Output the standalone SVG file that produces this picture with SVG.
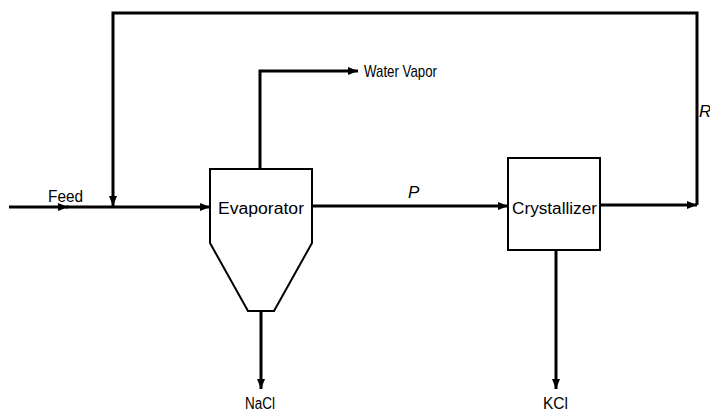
<svg xmlns="http://www.w3.org/2000/svg" width="710" height="414" viewBox="0 0 710 414">
<style>
.flow{fill:none;stroke:#000;stroke-width:3;stroke-linejoin:miter}
.unit{fill:#fff;stroke:#000;stroke-width:2}
.lbl{font-family:"Liberation Sans",Arial,sans-serif;font-size:17px;fill:#000}
.box{font-size:16px}
.it{font-style:italic;font-size:17px}
.small{font-size:16px}
</style>
<defs>
<marker id="ah" markerUnits="userSpaceOnUse" markerWidth="10" markerHeight="8" viewBox="0 0 10 8" refX="10" refY="4" orient="auto">
<path d="M0,0 L10,4 L0,8 Z" fill="#000"/>
</marker>
</defs>
<rect width="710" height="414" fill="#fff"/>
<g id="connectors">
<line class="flow" x1="9" y1="207" x2="68" y2="207" marker-end="url(#ah)"/>
<line class="flow" x1="66" y1="207" x2="210" y2="207" marker-end="url(#ah)"/>
<path class="flow" d="M697,205 V13 H113 V206" marker-end="url(#ah)"/>
<path class="flow" d="M260,169 V71 H358" marker-end="url(#ah)"/>
<line class="flow" x1="312" y1="206" x2="508" y2="206" marker-end="url(#ah)"/>
<line class="flow" x1="600" y1="205" x2="697" y2="205" marker-end="url(#ah)"/>
<line class="flow" x1="261" y1="311" x2="261" y2="389" marker-end="url(#ah)"/>
<line class="flow" x1="556" y1="250" x2="556" y2="389" marker-end="url(#ah)"/>
</g>
<g id="evaporator">
<path class="unit" d="M210,169 H312 V243 L274,311 H248 L210,243 Z"/>
<text class="lbl box" x="218" y="214" textLength="86" lengthAdjust="spacingAndGlyphs">Evaporator</text>
</g>
<g id="crystallizer">
<rect class="unit" x="508" y="158" width="92" height="92"/>
<text class="lbl box" x="512" y="214" textLength="85" lengthAdjust="spacingAndGlyphs">Crystallizer</text>
</g>
<g id="labels">
<text class="lbl" x="48" y="202" textLength="35" lengthAdjust="spacingAndGlyphs">Feed</text>
<text class="lbl" x="364" y="77" textLength="73" lengthAdjust="spacingAndGlyphs">Water Vapor</text>
<text class="lbl it" x="408" y="198">P</text>
<text class="lbl it" x="699" y="117">R</text>
<text class="lbl small" x="245" y="409" textLength="30" lengthAdjust="spacingAndGlyphs">NaCl</text>
<text class="lbl small" x="543" y="409" textLength="25" lengthAdjust="spacingAndGlyphs">KCl</text>
</g>
</svg>
